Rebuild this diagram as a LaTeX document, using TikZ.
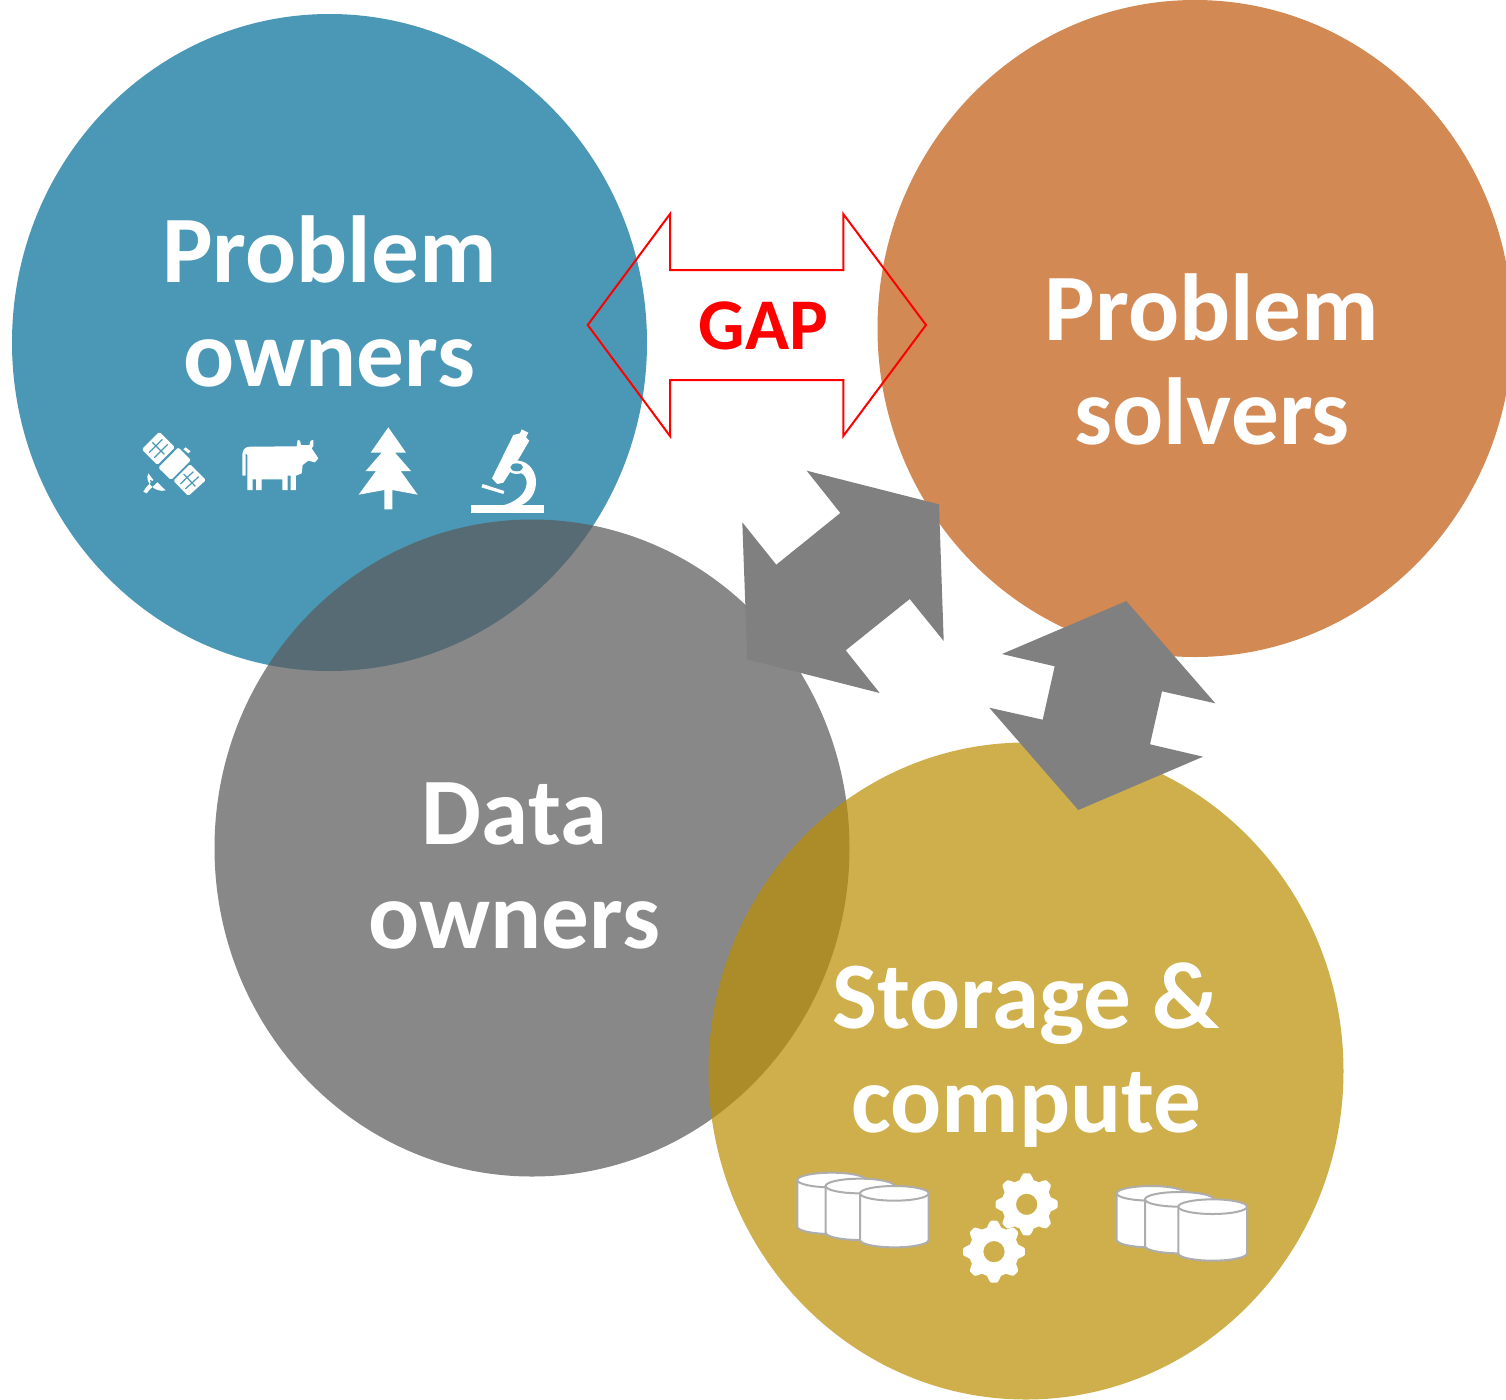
\documentclass[tikz,border=0pt]{standalone}
\usepackage{fontspec}
\setmainfont{Carlito}
\definecolor{cblue}{HTML}{4A98B6}
\definecolor{corange}{HTML}{D38954}
\definecolor{cgray}{HTML}{5B5B5B}
\definecolor{cgold}{HTML}{BA8E00}
\definecolor{cblock}{HTML}{808080}
\definecolor{cedge}{HTML}{ADADAD}
\tikzset{
  bigtext/.style={text=white,align=center,font=\fontsize{47.6}{52}\selectfont\bfseries,inner sep=0pt},
  blockarrow/.style={fill=cblock,draw=none},
  icon/.style={fill=white,draw=none},
  zoomA/.style={shift={(120,410)},scale=1/3},
  zoomB/.style={shift={(780,1150)},scale=1/3},
  cylface/.style={fill=white,draw=cedge,line width=1pt},
  pics/cyl/.style={code={
    \draw[cylface] (-103,0) -- (-103,140) arc[start angle=180,end angle=0,x radius=103,y radius=22] -- (103,0) -- cycle;
    \draw[cylface] (0,0) ellipse[x radius=103,y radius=22];
  }}
}
\begin{document}
\begin{tikzpicture}[x=0.5pt,y=-0.5pt]
\clip (0,0) rectangle (1506,1399);
\fill[white] (0,0) rectangle (1506,1399);
% circles
\fill[cblue] (329.5,342.5) ellipse[x radius=317.5,y radius=328.5];
\fill[corange] (1195,328.5) ellipse[x radius=317.5,y radius=328.5];
\fill[cgray,fill opacity=.72] (532,848) ellipse[x radius=317.5,y radius=328.5];
\fill[cgold,fill opacity=.70] (1026,1071) ellipse[x radius=317.5,y radius=328.5];
% block arrows
\path[blockarrow] (806.7,470.7) -- (939,504.3) -- (943.7,641) -- (909.7,599) -- (845.7,650.3) -- (879.7,693) -- (747.3,659.3) -- (742.3,522.3) -- (776.3,564.7) -- (840.3,513) -- cycle;
\path[blockarrow] (1126.3,601) -- (1215.3,703.3) -- (1162,691.3) -- (1150,744.3) -- (1203,756.7) -- (1078.3,810) -- (989.3,707.7) -- (1042.7,719.7) -- (1054.7,666.3) -- (1002,654) -- cycle;
% gap arrow
\draw[red,line width=1pt,miter limit=10] (587.7,325) -- (670,214) -- (670,270) -- (843.3,270) -- (843.3,214) -- (926,325) -- (843.3,436) -- (843.3,380) -- (670,380) -- (670,436) -- cycle;
\node[text=red,font=\fontsize{36.4}{40}\selectfont\bfseries,inner sep=0pt] (gap) at (763.5,326) {GAP};
% labels
\node[bigtext] (owners) at (329.5,301) {Problem\\owners};
\node[bigtext] (solvers) at (1212,359.5) {Problem\\solvers};
\node[bigtext] (data) at (514.5,866) {Data\\owners};
\node[bigtext] (storage) at (1026,1055) {Storage \&\\compute};
% satellite
\begin{scope}[zoomA]
  \fill[icon,rounded corners=.8pt] (118,65) -- (165,112) -- (112,165) -- (65,118) -- cycle;
  \fill[icon,rounded corners=.8pt] (210,162) -- (258,210) -- (205,258) -- (160,212) -- cycle;
  \draw[cblue,line width=.6pt] (127,88) -- (87,128) (143,103) -- (103,143) (97,97) -- (133,133);
  \draw[cblue,line width=.6pt] (220,185) -- (181,222) (236,200) -- (196,237) (191,192) -- (226,229);
  \fill[icon,rounded corners=.8pt] (175,112) -- (213,150) -- (153,210) -- (115,173) -- cycle;
  \fill[icon] (197,112) -- (212,124) -- (205,130) -- (190,118) -- cycle;
  \fill[icon] (85,190) .. controls (72,215) and (105,250) .. (137,241) -- (112,217) -- (88,240) -- (80,250) -- (70,245) -- (78,232) -- (100,210) -- cycle;
  \fill[cblue] (90,210) -- (98,213) -- (104,222) -- (94,224) -- cycle;
  % cow
  \fill[icon] (367,135) .. controls (367,120) and (375,110) .. (390,110) -- (530,109) -- (533,90) -- (540,92) -- (543,105) -- (568,105) -- (572,92) -- (580,90) -- (580,108) -- (575,115) -- (595,145) -- (585,157) -- (565,152) -- (548,165) -- (545,190) -- (528,197) -- (528,240) -- (512,240) -- (512,197) -- (503,197) -- (503,240) -- (487,240) -- (487,208) -- (425,208) -- (425,240) -- (408,240) -- (408,208) -- (398,208) -- (398,240) -- (382,240) -- (382,135) -- (377,130) -- (377,197) -- (367,197) -- cycle;
  % tree
  \fill[icon] (805,52) -- (858,128) -- (825,128) -- (873,183) -- (842,183) -- (893,254) -- (817,240) -- (817,298) -- (793,298) -- (793,240) -- (716,254) -- (768,183) -- (737,183) -- (785,128) -- (752,128) -- cycle;
  % microscope
  \fill[icon] (1054,286) rectangle (1273,309);
  \fill[icon] (1180,75) -- (1200,70) -- (1205,58) -- (1225,68) -- (1218,82) -- (1228,92) -- (1200,140) -- (1150,218) -- (1132,222) -- (1116,205) -- cycle;
  \fill[icon] (1088,222) -- (1153,243) -- (1150,252) -- (1084,232) -- cycle;
  \fill[icon] (1195,152) .. controls (1230,155) and (1250,190) .. (1248,220) .. controls (1246,255) and (1225,280) .. (1195,288) -- (1140,288) .. controls (1185,280) and (1222,250) .. (1220,215) .. controls (1218,195) and (1205,187) .. (1190,186) -- (1170,175) -- cycle;
  \fill[icon] (1190,172) ellipse[x radius=27,y radius=20];
  \fill[cblue] (1190,172) ellipse[x radius=19,y radius=12];
\end{scope}
% storage icons
\begin{scope}[zoomB]
  \pic[transform shape] at (155,90) {cyl};
  \pic[transform shape] at (240,108) {cyl};
  \pic[transform shape] at (343,130) {cyl};
  \pic[transform shape] at (1113,130) {cyl};
  \pic[transform shape] at (1198,148) {cyl};
  \pic[transform shape] at (1298,170) {cyl};
  \fill[icon,even odd rule] plot[domain=0:360,samples=193,smooth] ({740+(84+9*max(min(1.5*cos(8*\x),1),-1))*cos(\x)},{163+(84+9*max(min(1.5*cos(8*\x),1),-1))*sin(\x)}) -- cycle
     (740,163) ellipse[x radius=32,y radius=32];
  \fill[icon,even odd rule] plot[domain=0:360,samples=193,smooth] ({642+(84+9*max(min(1.5*cos(8*\x),1),-1))*cos(\x)},{305+(84+9*max(min(1.5*cos(8*\x),1),-1))*sin(\x)}) -- cycle
     (642,305) ellipse[x radius=32,y radius=32];
\end{scope}
\end{tikzpicture}
\end{document}
